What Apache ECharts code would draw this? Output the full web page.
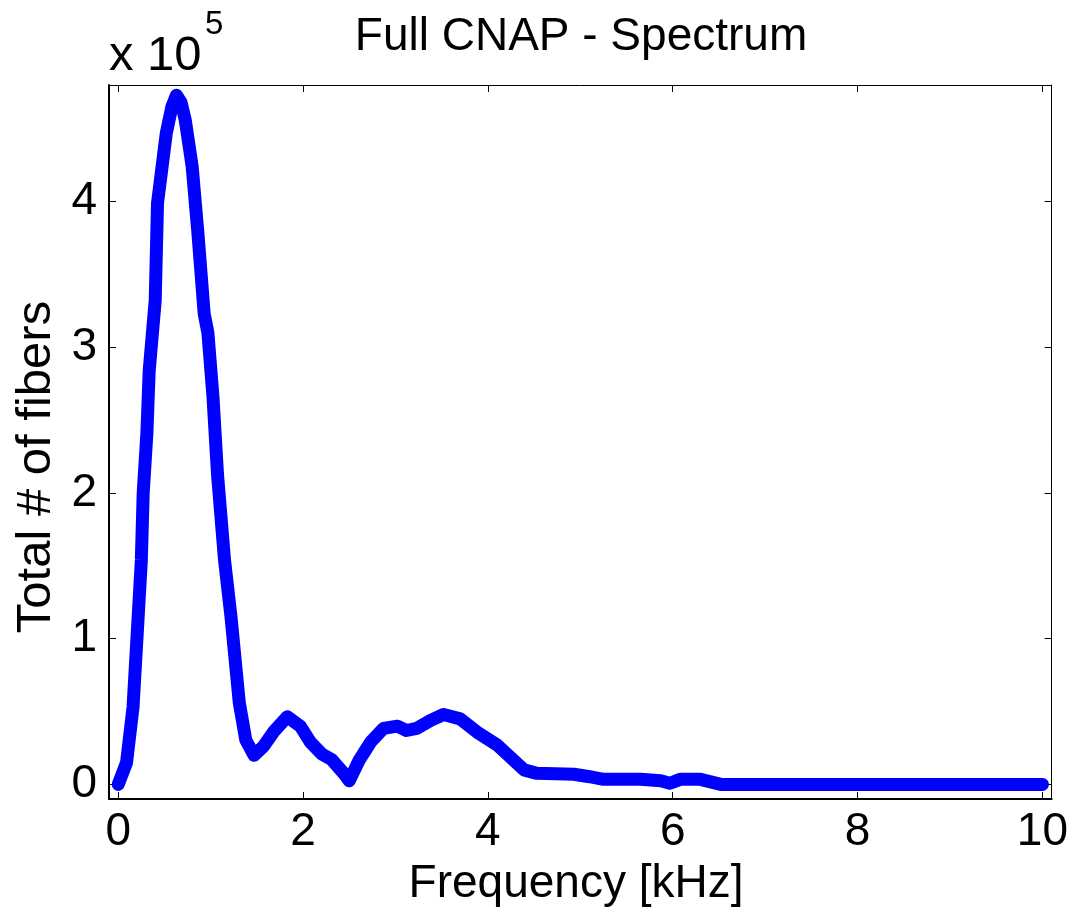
<!DOCTYPE html>
<html>
<head>
<meta charset="utf-8">
<script src="https://cdn.jsdelivr.net/npm/echarts@6/dist/echarts.min.js"></script>
<style>
html,body{margin:0;padding:0;background:#fff;}
#chart{width:1071px;height:911px;}
</style>
</head>
<body>
<div id="chart"></div>
<script>
// Frequency in kHz
const freq = [0.00,0.09,0.16,0.22,0.25,0.27,0.31,0.335,0.40,0.425,0.52,0.58,0.63,0.68,0.725,0.80,0.86,0.93,0.97,1.025,1.075,1.15,1.22,1.31,1.38,1.47,1.57,1.68,1.83,1.97,2.08,2.20,2.31,2.44,2.50,2.61,2.73,2.87,3.02,3.12,3.23,3.38,3.52,3.70,3.88,4.10,4.22,4.39,4.53,4.93,5.10,5.25,5.65,5.87,5.97,6.08,6.30,6.52,10.0];
// Total # of fibers
const fibers = [0,15000,53000,120000,154000,200000,241000,284000,332000,399000,447000,465000,473000,468000,456000,424000,380000,323000,310000,266000,212000,154000,115000,56000,30500,20000,26000,36000,46500,40000,29000,21000,17000,7600,2500,17000,29000,38500,40000,37000,38500,44000,48000,45000,36000,27000,20000,10000,7600,7000,5300,3500,3500,2500,800,3500,3500,0,0];
const xTicks = [0,2,4,6,8,10];
const yTicks = [0,100000,200000,300000,400000];

const FONT = "'Liberation Sans', Arial, sans-serif";
const chart = echarts.init(document.getElementById('chart'));
const data = freq.map((f,i)=>[f, fibers[i]]);

chart.setOption({
  animation:false,
  backgroundColor:'#fff',
  title:{
    text:'Full CNAP - Spectrum',
    left:576, top:9, textAlign:'center',
    textStyle:{fontFamily:FONT,fontSize:46,fontWeight:'normal',color:'#000'}
  },
  grid:{left:109,right:19,top:85,bottom:112,containLabel:false},
  xAxis:[{
    type:'value', min:-0.1, max:10.1, position:'bottom',
    axisLine:{show:true,onZero:false,lineStyle:{color:'#000',width:2}},
    axisTick:{show:true,inside:true,length:7,customValues:xTicks,lineStyle:{color:'#000',width:1}},
    axisLabel:{show:true,customValues:xTicks,margin:10,color:'#000',fontFamily:FONT,fontSize:46},
    splitLine:{show:false}
  },{
    type:'value', min:-0.1, max:10.1, position:'top',
    axisLine:{show:true,onZero:false,lineStyle:{color:'#000',width:1}},
    axisTick:{show:true,inside:true,length:7,customValues:xTicks,lineStyle:{color:'#000',width:1}},
    axisLabel:{show:false},
    splitLine:{show:false}
  }],
  yAxis:[{
    type:'value', min:-10000, max:480000, position:'left',
    axisLine:{show:true,onZero:false,lineStyle:{color:'#000',width:2}},
    axisTick:{show:true,inside:true,length:7,customValues:yTicks,lineStyle:{color:'#000',width:1}},
    axisLabel:{show:true,customValues:yTicks,margin:12,color:'#000',fontFamily:FONT,fontSize:46,
      formatter:v=>String(Math.round(v/100000))},
    splitLine:{show:false}
  },{
    type:'value', min:-10000, max:480000, position:'right',
    axisLine:{show:true,onZero:false,lineStyle:{color:'#000',width:1}},
    axisTick:{show:true,inside:true,length:7,customValues:yTicks,lineStyle:{color:'#000',width:1}},
    axisLabel:{show:false},
    splitLine:{show:false}
  }],
  graphic:[
    {type:'text',x:576,y:884,style:{text:'Frequency [kHz]',fontFamily:FONT,fontSize:46,fill:'#000',textAlign:'center',textVerticalAlign:'middle'}},
    {type:'text',x:36,y:467,rotation:Math.PI/2,style:{text:'Total # of fibers',fontFamily:FONT,fontSize:49,fill:'#000',textAlign:'center',textVerticalAlign:'middle'}},
    {type:'text',x:109,y:56,style:{text:'x 10',fontFamily:FONT,fontSize:49,fill:'#000',textVerticalAlign:'middle'}},
    {type:'text',x:205,y:25,style:{text:'5',fontFamily:FONT,fontSize:33,fill:'#000',textVerticalAlign:'middle'}}
  ],
  series:[{
    type:'line',
    xAxisIndex:0,yAxisIndex:0,
    data:data,
    showSymbol:false,
    smooth:false,
    lineStyle:{color:'#0000ff',width:13,cap:'round',join:'round'},
    silent:true
  }]
});
</script>
</body>
</html>
